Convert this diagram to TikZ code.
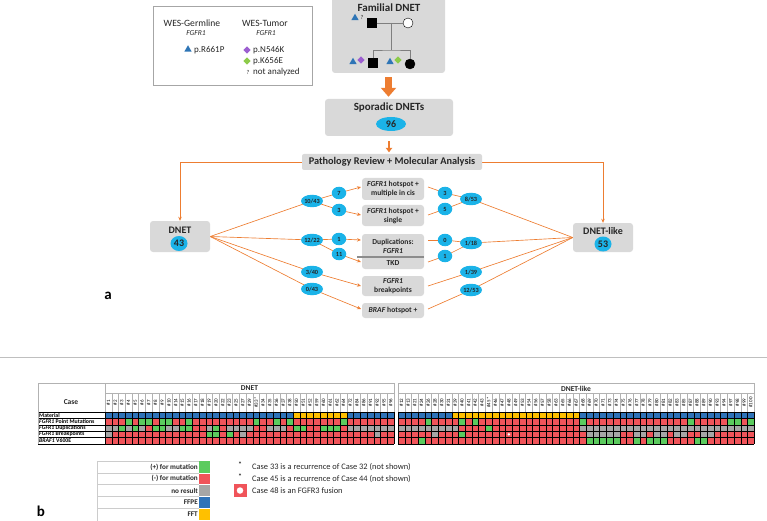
\documentclass[tikz,border=0pt]{standalone}
\usepackage{fontspec}
\setmainfont{Carlito}
\usetikzlibrary{arrows.meta,shapes.geometric}
\pgfdeclarelayer{bg}
\pgfsetlayers{bg,main}
\definecolor{boxgray}{HTML}{D9D9D9}
\definecolor{ecyan}{HTML}{1BB3E8}
\definecolor{oran}{HTML}{ED7D31}
\definecolor{tblue}{HTML}{2E75B6}
\definecolor{dpurple}{HTML}{9C5FD0}
\definecolor{dgreen}{HTML}{8DCB4A}
\definecolor{hcg}{HTML}{5BCB5E}
\definecolor{hcr}{HTML}{F0545A}
\definecolor{hcn}{HTML}{A6A6A6}
\definecolor{hcb}{HTML}{2F73B8}
\definecolor{hcy}{HTML}{FFC000}
\definecolor{hcw}{HTML}{F0545A}
\definecolor{txt}{HTML}{262626}
\definecolor{pedl}{HTML}{7F7F7F}
\newcommand{\heatrow}[3]{\foreach \c [count=\k from 0] in {#3}{\fill[fill=hc\c] ({#1+\k*6.72},#2) rectangle ++(6.72,6.4);}}
\tikzset{
 gbox/.style={fill=boxgray, rounded corners=3pt, inner sep=0pt, text=txt},
 ell/.style={ellipse, fill=ecyan, inner sep=0pt, minimum width=22pt, minimum height=12.5pt, font=\bfseries\fontsize{6.3}{7}\selectfont, text=black!85},
 sell/.style={ell, minimum width=14.5pt},
 bigell/.style={ell, font=\bfseries\fontsize{10}{10}\selectfont},
 oline/.style={draw=oran, line width=0.65pt},
 oarr/.style={oline, -{Stealth[length=4pt,width=3.5pt]}},
 midtxt/.style={font=\bfseries\fontsize{7.6}{9}\selectfont, align=center, text=txt},
 ttl/.style={font=\bfseries\fontsize{11}{12}\selectfont, text=txt, inner sep=0pt},
 ttl10/.style={font=\bfseries\fontsize{10}{11}\selectfont, text=txt, inner sep=0pt},
 legt/.style={font=\fontsize{9.6}{11}\selectfont, inner sep=0pt, text=txt},
 legs/.style={font=\fontsize{9}{11}\selectfont, inner sep=0pt, text=txt, anchor=west},
 legi/.style={font=\itshape\fontsize{7.5}{9}\selectfont, inner sep=0pt, text=txt},
 tri/.style={regular polygon, regular polygon sides=3, fill=tblue, inner sep=0pt, minimum size=8.5pt},
 dia/.style={diamond, inner sep=0pt, minimum size=7.5pt},
 qm/.style={font=\fontsize{6}{7}\selectfont, inner sep=0pt, text=txt},
 ped/.style={draw=pedl, line width=0.7pt},
 gridl/.style={draw=black, line width=0.35pt},
 hdr/.style={draw=black!30, line width=0.4pt},
 collab/.style={rotate=90, font=\fontsize{5}{5.5}\selectfont, inner sep=0pt},
 rowlab/.style={anchor=west, font=\bfseries\fontsize{5.8}{6}\selectfont, inner sep=0pt},
 hdrf/.style={font=\bfseries\fontsize{7.5}{8}\selectfont, inner sep=0pt, text=txt},
 legl/.style={font=\bfseries\fontsize{7.2}{8}\selectfont, inner sep=0pt, anchor=east, text=txt},
 lgl/.style={draw=black!20, line width=0.5pt},
 note/.style={font=\fontsize{8.4}{10}\selectfont, inner sep=0pt, anchor=west, text=txt},
 plab/.style={font=\bfseries\fontsize{15}{15}\selectfont, inner sep=0pt}
}
\begin{document}
\begin{tikzpicture}[x=1pt,y=-1pt]
\useasboundingbox (0,0) rectangle (767,521);

% ---------- legend (top left)
\node[draw=black!35, line width=0.5pt, minimum width=159pt, minimum height=79pt, inner sep=0pt] (legbox) at (232.5,45.5) {};
\node[legt] (gtitle) at (192,23) {WES-Germline};
\node[legi] (gfg) at (196,33) {FGFR1};
\node[tri] (gtri) at (188,49.5) {};
\node[legs] (gmut) at (194,50) {p.R661P};
\node[legt] (ttitle) at (265,23) {WES-Tumor};
\node[legi] (tfg) at (266,33) {FGFR1};
\node[dia, fill=dpurple] (td1) at (247,50) {};
\node[legs] (tm1) at (253,50) {p.N546K};
\node[dia, fill=dgreen] (td2) at (247,61) {};
\node[legs] (tm2) at (253,61) {p.K656E};
\node[qm] (tq) at (248,72) {?};
\node[legs] (tm3) at (253,72) {not analyzed};

% ---------- familial DNET
\node[gbox, minimum width=113pt, minimum height=76pt] (fam) at (388.5,35) {};
\node[ttl] (famt) at (389,8) {Familial DNET};
\node[draw=black, fill=black, minimum size=9pt, inner sep=0pt] (fa) at (372,23) {};
\node[circle, draw=black, fill=white, minimum size=10pt, inner sep=0pt] (mo) at (408,23) {};
\coordinate (mid) at (391,23);
\coordinate (sib) at (391,50);
\node[draw=black, fill=black, minimum size=9pt, inner sep=0pt] (c1) at (373,63) {};
\node[circle, draw=black, fill=black, minimum size=10pt, inner sep=0pt] (c2) at (410,64) {};
\draw[ped] (fa) -- (mo);
\draw[ped] (mid) -- (sib);
\draw[ped] (c1.north) |- (sib) -| (c2.north);
\node[tri] (fatri) at (355,18) {};
\node[qm] (faq) at (362,17) {?};
\node[tri] (c1tri) at (353,62) {};
\node[dia, fill=dpurple] (c1d) at (361,60) {};
\node[tri] (c2tri) at (390,62) {};
\node[dia, fill=dgreen] (c2d) at (398,60) {};

% ---------- sporadic
\node[gbox, minimum width=128pt, minimum height=37pt] (spor) at (389,117.5) {};
\node[ttl] (spt) at (389,108) {Sporadic DNETs};
\node[bigell, minimum width=30pt, minimum height=14pt] (n96) at (391,124) {96};
\draw[draw=oran, line width=6.5pt, shorten <=4pt, shorten >=2pt, -{Triangle[width=15pt,length=9pt]}] (fam.south) -- (fam.south |- spor.north);

% ---------- pathology
\node[gbox, rounded corners=2pt, minimum width=180pt, minimum height=16pt, font=\bfseries\fontsize{10.3}{11}\selectfont] (path) at (392,162) {Pathology Review + Molecular Analysis};
\draw[draw=oran, line width=2.6pt, shorten <=5pt, shorten >=1.5pt, -{Triangle[width=6.5pt,length=4.5pt]}] (spor.south) -- (spor.south |- path.north);

% ---------- DNET / DNET-like
\node[gbox, minimum width=60pt, minimum height=31pt] (dnet) at (180,236.5) {};
\node[ttl10] (dnt) at (180,230.5) {DNET};
\node[bigell, minimum width=17pt, minimum height=15pt] (n43) at (179,243.5) {43};
\node[gbox, minimum width=60pt, minimum height=29pt] (like) at (603,237.5) {};
\node[ttl10] (likt) at (603,231.5) {DNET-like};
\node[bigell, minimum width=17pt, minimum height=15pt] (n53) at (603,244) {53};

% ---------- middle boxes
\node[gbox, minimum width=62pt, minimum height=22pt, midtxt] (b1) at (393,189) {\textit{FGFR1} hotspot +\\multiple in cis};
\node[gbox, minimum width=62pt, minimum height=21pt, midtxt] (b2) at (393,215.5) {\textit{FGFR1} hotspot +\\single};
\node[gbox, minimum width=62pt, minimum height=35pt] (b3) at (393,251.5) {};
\node[midtxt, inner sep=0pt] (b3t) at (393,246) {Duplications:\\\textit{FGFR1}};
\node[midtxt, inner sep=0pt] (b3k) at (393,263.3) {TKD};
\coordinate (dvl) at (357,257);
\coordinate (dvr) at (424,257);
\draw[draw=black!45, line width=1.2pt] (dvl) -- (dvr);
\node[gbox, minimum width=62pt, minimum height=20pt, midtxt] (b4) at (393,286) {\textit{FGFR1}\\breakpoints};
\node[gbox, minimum width=62pt, minimum height=15pt, midtxt] (b5) at (393,310.5) {\textit{BRAF} hotspot +};

% ---------- ellipses
\node[ell] (l1) at (312,201) {10/43};
\node[sell] (l1a) at (339,193) {7};
\node[sell] (l1b) at (339,210) {3};
\node[ell] (l2) at (312,240) {12/22};
\node[sell] (l2a) at (339,239) {1};
\node[sell] (l2b) at (339,254) {11};
\node[ell] (l3) at (312,272) {3/40};
\node[ell] (l4) at (312,289) {0/43};
\node[ell] (r1) at (471,199) {8/53};
\node[sell] (r1a) at (445,193) {3};
\node[sell] (r1b) at (445,209) {5};
\node[ell] (r2) at (471,243) {1/18};
\node[sell] (r2a) at (445,240) {0};
\node[sell] (r2b) at (445,256) {1};
\node[ell] (r3) at (471,272) {1/39};
\node[ell] (r4) at (471,290) {12/53};

\coordinate (b1L) at (361,187);
\coordinate (b2L) at (361,215);
\coordinate (b3La) at (361,240);
\coordinate (b3Lb) at (361,262);
\coordinate (b4L) at (361,286);
\coordinate (b5L) at (361,309);
\coordinate (b1R) at (428,187);
\coordinate (b2R) at (428,215);
\coordinate (b3Ra) at (428,240);
\coordinate (b3Rb) at (428,262);
\coordinate (b4R) at (428,286);
\coordinate (b5R) at (428,309);

\begin{pgfonlayer}{bg}
\draw[oarr] (path.west) -| (dnet.north);
\draw[oarr] (path.east) -| (like.north);
\draw[oline] (dnet.east) -- (l1.center);
\draw[oline] (dnet.east) -- (l2.center);
\draw[oline] (dnet.east) -- (l3.center);
\draw[oline] (dnet.east) -- (l4.center);
\draw[oline] (l1.center) -- (l1a.center);
\draw[oline] (l1.center) -- (l1b.center);
\draw[oline] (l2.center) -- (l2a.center);
\draw[oline] (l2.center) -- (l2b.center);
\draw[oarr] (l1a.center) -- (b1L);
\draw[oarr] (l1b.center) -- (b2L);
\draw[oarr] (l2a.center) -- (b3La);
\draw[oarr] (l2b.center) -- (b3Lb);
\draw[oarr] (l3.center) -- (b4L);
\draw[oarr] (l4.center) -- (b5L);
\draw[oline] (like.west) -- (r1.center);
\draw[oline] (like.west) -- (r2.center);
\draw[oline] (like.west) -- (r3.center);
\draw[oline] (like.west) -- (r4.center);
\draw[oline] (r1.center) -- (r1a.center);
\draw[oline] (r1.center) -- (r1b.center);
\draw[oline] (r2.center) -- (r2a.center);
\draw[oline] (r2.center) -- (r2b.center);
\draw[oline] (r1a.center) -- (b1R);
\draw[oline] (r1b.center) -- (b2R);
\draw[oline] (r2a.center) -- (b3Ra);
\draw[oline] (r2b.center) -- (b3Rb);
\draw[oline] (r3.center) -- (b4R);
\draw[oline] (r4.center) -- (b5R);
\end{pgfonlayer}

\node[plab] (pa) at (108,296) {a};

% ---------- separator
\coordinate (sepl) at (0,357);
\coordinate (sepr) at (767,357);
\draw[draw=black!25, line width=0.6pt] (sepl) -- (sepr);

% ---------- heat table
\draw[hdr] (38,383.5) rectangle (105,412);
\node[hdrf] (casel) at (71,402) {Case};
\draw[hdr] (105,383.5) rectangle (393.96,393);
\node[hdrf] (hd1) at (249.5,388.5) {DNET};
\draw[hdr] (398,383.5) rectangle (754.16,393);
\node[hdrf] (hd2) at (576,388.5) {DNET-like};
\foreach \k in {0,...,43} \draw[hdr] ({105+\k*6.72},393) -- ++(0,19);
\foreach \k in {0,...,53} \draw[hdr] ({398+\k*6.72},393) -- ++(0,19);
\foreach \lab [count=\k from 0] in {1,2,3,4,5,6,7,8,9,10,14,15,16,17,18,19,20,22,23,25,27,29,33*,34,35,36,37,38,50,51,52,59,60,61,62,64,72,84,86,91,92,95,96}
  \node[collab] at ({105+(\k+0.5)*6.72},402.5) {\#\lab};
\foreach \lab [count=\k from 0] in {12,13,21,24,26,28,30,31,39,40,41,42,43,45*,46,47,48,49,53,54,56,57,58,63,65,66,67,68,69,70,71,73,74,75,76,77,78,79,80,81,82,83,85,87,88,89,90,93,94,97,98,99,100}
  \node[collab] at ({398+(\k+0.5)*6.72},402.5) {\#\lab};

% DNET rows
\heatrow{105}{412}{b,b,b,b,b,b,b,b,b,b, b,b,b,b,b,b,b,b,b,b, b,b,b,b,b,b,b,b,y,y, y,y,y,y,y,y,b,b,b,b, b,b,b}
\heatrow{105}{418.4}{r,r,r,g,r,g,g,r,g,g, r,r,g,r,r,r,r,r,r,r, r,r,g,r,r,g,r,g,r,r, r,r,r,r,r,g,r,r,r,r, r,r,r}
\heatrow{105}{424.8}{n,n,g,n,g,n,r,g,g,n, n,g,g,r,r,n,g,r,n,n, n,n,r,r,n,n,n,r,g,g, r,r,g,g,g,r,n,n,n,n, n,n,n}
\heatrow{105}{431.2}{n,r,r,r,r,r,r,r,r,r, r,r,r,r,r,g,g,r,g,r, n,r,r,r,r,r,r,r,r,r, r,r,r,r,r,r,r,r,r,r, n,r,r}
\heatrow{105}{437.6}{r,r,r,r,r,r,r,r,r,r, r,r,r,r,r,r,r,r,r,r, r,r,r,r,r,r,r,r,r,r, r,r,r,r,r,r,r,r,r,r, r,r,r}
% DNET-like rows
\heatrow{398}{412}{b,b,b,b,b,b,b,b,y,y, y,y,y,y,y,y,y,y,y,y, y,y,y,y,y,y,y,b,b,b, b,b,b,b,b,b,b,b,b,b, b,b,b,b,b,b,b,b,b,b, b,b,b}
\heatrow{398}{418.4}{r,r,r,r,g,r,r,r,r,g, r,g,r,r,r,r,r,r,r,r, r,r,r,r,r,r,r,g,r,r, r,r,r,r,r,r,r,r,r,r, r,r,r,g,r,r,r,r,r,g, g,r,g}
\heatrow{398}{424.8}{n,n,n,n,n,n,n,n,n,r, r,r,r,g,r,r,r,r,r,r, r,r,r,r,r,r,r,n,n,n, n,n,n,n,n,n,n,n,n,n, n,n,n,n,n,n,n,n,n,n, n,n,n}
\heatrow{398}{431.2}{r,r,r,r,r,n,r,r,r,g, r,r,r,r,r,r,w,r,r,r, r,r,r,r,r,r,r,r,n,n, n,n,n,r,r,n,n,r,n,n, r,n,n,r,r,n,n,r,r,r, r,r,r}
\heatrow{398}{437.6}{r,r,r,g,r,r,r,r,r,r, r,r,r,r,r,r,r,r,r,r, r,r,r,r,r,r,r,r,g,g, g,g,g,r,r,g,r,g,g,g, r,r,r,r,g,g,r,r,r,r, r,r,r}
\fill[white] ({398+16.5*6.72},434.4) circle (1.3pt);
% grid
\foreach \k in {0,...,43} \draw[gridl] ({105+\k*6.72},412) -- ++(0,32);
\foreach \r in {0,...,5} \draw[gridl] (105,{412+\r*6.4}) -- (393.96,{412+\r*6.4});
\foreach \k in {0,...,53} \draw[gridl] ({398+\k*6.72},412) -- ++(0,32);
\foreach \r in {0,...,5} \draw[gridl] (398,{412+\r*6.4}) -- (754.16,{412+\r*6.4});
\foreach \r in {0,...,5} \draw[gridl] (38,{412+\r*6.4}) -- (105,{412+\r*6.4});
\draw[hdr] (38,412) -- (38,444);
\node[rowlab] (rl1) at (39,415.2) {Material};
\node[rowlab] (rl2) at (39,421.6) {\textit{FGFR1} Point Mutations};
\node[rowlab] (rl3) at (39,428) {\textit{FGFR1} Duplications};
\node[rowlab] (rl4) at (39,434.4) {\textit{FGFR1} Breakpoints};
\node[rowlab] (rl5) at (39,440.8) {\textit{BRAF1} V600E};

% ---------- bottom legend
\foreach \col/\lab [count=\i from 0] in {hcg/{(+) for mutation}, hcr/{(-) for mutation}, hcn/{no result}, hcb/{FFPE}, hcy/{FFT}} {
  \fill[fill=\col] (199,{461+\i*11.8}) rectangle ++(10.5,11.8);
  \draw[lgl] (97,{461+\i*11.8}) -- (199,{461+\i*11.8});
  \node[legl] at (198,{461+(\i+0.5)*11.8}) {\lab};
}
\draw[lgl] (97,461) -- (97,521);
\foreach \i in {1,...,4} \draw[white, line width=0.6pt] (199,{461+\i*11.8}) -- ++(10.5,0);

\node[font=\fontsize{8}{9}\selectfont, inner sep=0pt] (s1) at (240,465) {*};
\node[note] (n1) at (252,467) {Case 33 is a recurrence of Case 32 (not shown)};
\node[font=\fontsize{8}{9}\selectfont, inner sep=0pt] (s2) at (240,477) {*};
\node[note] (n2) at (252,479) {Case 45 is a recurrence of Case 44 (not shown)};
\node[fill=hcr, minimum size=13pt, inner sep=0pt] (sq) at (240,490.5) {};
\node[circle, fill=white, minimum size=6.5pt, inner sep=0pt] (sqd) at (sq) {};
\node[note] (n3) at (252,490.5) {Case 48 is an FGFR3 fusion};

\node[plab] (pb) at (41,511) {b};
\end{tikzpicture}
\end{document}
